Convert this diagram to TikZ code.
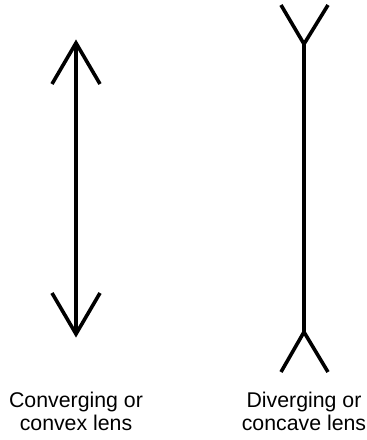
\documentclass[tikz,border=0pt]{standalone}
\usepackage{fontspec}
\setmainfont{Liberation Sans}
\begin{document}
\begin{tikzpicture}[x=1pt,y=-1pt,
  lensline/.style={line width=3.6pt,line join=miter,black},
  caption/.style={align=center,font=\fontsize{21.3}{23}\selectfont,inner sep=0pt}]
\useasboundingbox (0,0) rectangle (367,440);
% converging lens
\coordinate (ctop) at (76,43);
\coordinate (cbot) at (76,334);
\draw[lensline] (ctop) -- (cbot);
\draw[lensline] (52,84) -- (ctop) -- (100,84);
\draw[lensline] (52,293) -- (cbot) -- (100,293);
% diverging lens
\coordinate (dtop) at (304,44);
\coordinate (dbot) at (304,332);
\draw[lensline] (dtop) -- (dbot);
\draw[lensline] (281,5) -- (dtop) -- (328,5);
\draw[lensline] (281,372) -- (dbot) -- (328,372);
% captions
\node[caption,anchor=base] (cl) at (76,430) {Converging or\\convex lens};
\node[caption,anchor=base] (dl) at (304,430) {Diverging or\\concave lens};
\end{tikzpicture}
\end{document}
